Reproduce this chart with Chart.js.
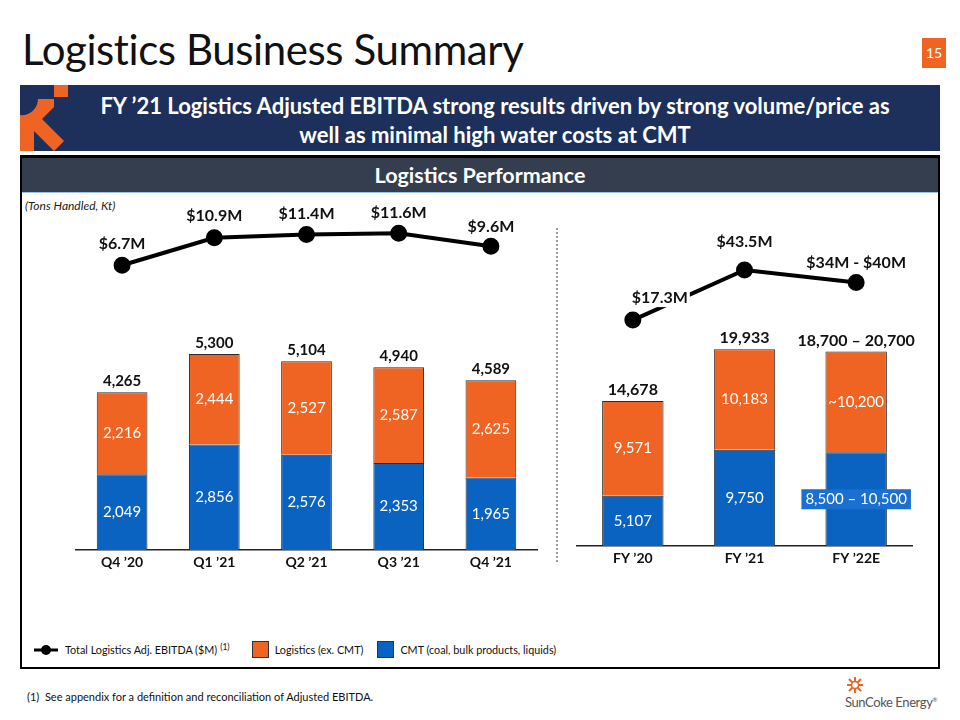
<!DOCTYPE html>
<html>
<head>
<meta charset="utf-8">
<script src="https://cdn.jsdelivr.net/npm/chart.js@4.4.0/dist/chart.umd.min.js"></script>
<style>
  body { margin: 0; width: 960px; height: 720px; background: #fff; font-family: "Lato", "Open Sans", sans-serif; position: relative; overflow: hidden; }
  .abs { position: absolute; }
  #title { left: 22px; top: 24px; font-size: 42px; color: #111; letter-spacing: -0.4px; }
  #pagenum { left: 922px; top: 38px; width: 24px; height: 30px; background: #ef6423; color: #fff; font-size: 14px; text-align: center; line-height: 30px; }
  #banner { left: 20px; top: 85px; width: 920px; height: 66px; background: #1d2f5b; }
  #bannerText { left: 50px; top: 91px; width: 890px; color: #fff; font-weight: bold; font-size: 22px; line-height: 29px; text-align: center; }
  #panel { left: 20px; top: 155px; width: 916px; height: 509px; border: 2px solid #000; border-top: 3px solid #000; }
  #header { left: 22px; top: 158px; width: 916px; height: 34px; background: #343e4f; color: #fff; font-weight: bold; font-size: 21.5px; line-height: 34px; text-align: center; border-bottom: 1px solid #9dc3e6; }
  #units { left: 25px; top: 198px; font-size: 12px; font-style: italic; color: #222; }
  #divider { left: 556px; top: 228px; height: 334px; border-left: 2px dotted #9a9a9a; }
  #legend { left: 33px; top: 641px; font-size: 10.8px; color: #111; display: flex; align-items: center; }
  .sw { width: 15px; height: 15px; border: 1px solid #333; margin-right: 6px; }
  #footnote { left: 27px; top: 690px; font-size: 11px; color: #111; }
  #logo { left: 836px; top: 676px; width: 110px; text-align: center; color: #555; font-size: 13px; letter-spacing: -0.4px; }
  canvas { position: absolute; }
</style>
</head>
<body>
<div id="title" class="abs">Logistics Business Summary</div>
<div id="pagenum" class="abs">15</div>
<div id="banner" class="abs"></div>
<svg class="abs" style="left:20px;top:85px" width="60" height="66" viewBox="0 0 60 66">
  <rect x="34" y="0" width="14" height="12" fill="#ef6423"/>
  <path d="M0 30 A16 16 0 0 0 18 14 L34 14 L34 22 L22 34 L44 56 L34 66 L14 46 L14 66 L0 66 Z" fill="#ef6423"/>
</svg>
<div id="bannerText" class="abs">FY ’21 Logistics Adjusted EBITDA strong results driven by strong volume/price as<br>well as minimal high water costs at CMT</div>
<div id="panel" class="abs"></div>
<div id="header" class="abs">Logistics Performance</div>
<div id="units" class="abs">(Tons Handled, Kt)</div>
<div id="divider" class="abs"></div>

<canvas id="quarterChart" style="left:20px;top:195px" width="537" height="390"></canvas>
<canvas id="yearChart" style="left:560px;top:195px" width="375" height="390"></canvas>

<div id="legend" class="abs">
  <svg width="26" height="12" style="margin-right:6px"><line x1="1" y1="6" x2="25" y2="6" stroke="#000" stroke-width="3"/><circle cx="13" cy="6" r="5" fill="#000"/></svg>
  <span>Total Logistics Adj. EBITDA ($M)</span><sup style="font-size:8.5px;margin-left:3px;position:relative;top:-3px">(1)</sup>
  <span class="sw" style="background:#ef6423;margin-left:22px"></span><span>Logistics (ex. CMT)</span>
  <span class="sw" style="background:#0b63c1;margin-left:14px"></span><span>CMT (coal, bulk products, liquids)</span>
</div>
<div id="footnote" class="abs">(1)&nbsp; See appendix for a definition and reconciliation of Adjusted EBITDA.</div>
<div id="logo" class="abs">
  <svg width="18" height="18" viewBox="-9 -9 18 18" style="display:block;margin:0 auto 0 10px">
    <g stroke="#ef6423" stroke-width="2">
      <line x1="-8" y1="0" x2="8" y2="0"/><line x1="0" y1="-8" x2="0" y2="8"/>
      <line x1="-6" y1="-6" x2="6" y2="6"/><line x1="-6" y1="6" x2="6" y2="-6"/>
    </g>
    <circle r="3.5" fill="#fff" stroke="#ef6423" stroke-width="1.5"/>
  </svg>
  <div>SunCoke Energy<sup style="font-size:6px">®</sup></div>
</div>

<script>
// quarterly data (Kt)
const quarters = ["Q4 ’20", "Q1 ’21", "Q2 ’21", "Q3 ’21", "Q4 ’21"];
const qCmt = [2049, 2856, 2576, 2353, 1965];
const qLogistics = [2216, 2444, 2527, 2587, 2625];
const qCmtLabels = ["2,049", "2,856", "2,576", "2,353", "1,965"];
const qLogLabels = ["2,216", "2,444", "2,527", "2,587", "2,625"];
const qTotalLabels = ["4,265", "5,300", "5,104", "4,940", "4,589"];
const qEbitda = [6.7, 10.9, 11.4, 11.6, 9.6];
const qEbitdaLabels = ["$6.7M", "$10.9M", "$11.4M", "$11.6M", "$9.6M"];

// full year data (Kt), FY '22E uses midpoint of guidance ranges
const years = ["FY ’20", "FY ’21", "FY ’22E"];
const yCmt = [5107, 9750, 9500];
const yLogistics = [9571, 10183, 10200];
const yCmtLabels = ["5,107", "9,750", "8,500 – 10,500"];
const yLogLabels = ["9,571", "10,183", "~10,200"];
const yTotalLabels = ["14,678", "19,933", "18,700 – 20,700"];
const yEbitda = [17.3, 43.5, 37];
const yEbitdaLabels = ["$17.3M", "$43.5M", "$34M - $40M"];

const ORANGE = "#ef6423";
const BLUE = "#0b63c1";
const FONT = "Lato, 'Open Sans', sans-serif";

Chart.defaults.font.family = FONT;
Chart.defaults.animation = false;

// draws the value labels (segments, totals, line points)
const labelPlugin = {
  id: "labels",
  afterDatasetsDraw(chart, args, opts) {
    const ctx = chart.ctx;
    ctx.save();
    ctx.textAlign = "center";
    ctx.textBaseline = "middle";
    const cmtMeta = chart.getDatasetMeta(0);
    const logMeta = chart.getDatasetMeta(1);
    const lineMeta = chart.getDatasetMeta(2);

    cmtMeta.data.forEach((bar, i) => {
      // blue segment
      const cy = (bar.y + bar.base) / 2;
      ctx.font = "15px " + FONT;
      const txt = opts.cmt[i];
      if (opts.boxed && opts.boxed[i]) {
        const w = ctx.measureText(txt).width + 8;
        ctx.fillStyle = "#1a6fd0";
        ctx.fillRect(bar.x - w / 2, cy - 10, w, 20);
      }
      ctx.fillStyle = "#fff";
      ctx.fillText(txt, bar.x, cy);

      // orange segment
      const ob = logMeta.data[i];
      ctx.fillText(opts.log[i], ob.x, (ob.y + ob.base) / 2);

      // total on top
      ctx.fillStyle = "#111";
      ctx.font = "bold " + opts.totalSize + "px " + FONT;
      ctx.fillText(opts.total[i], ob.x, ob.y - 11);
    });

    ctx.font = "bold 16px " + FONT;
    lineMeta.data.forEach((pt, i) => {
      const off = opts.lineOffset[i];
      const x = pt.x + off[0], y = pt.y + off[1];
      if (off[2]) {
        const w = ctx.measureText(opts.line[i]).width + 4;
        ctx.fillStyle = "#fff";
        ctx.fillRect(x - w / 2, y - 9, w, 18);
      }
      ctx.fillStyle = "#111";
      ctx.fillText(opts.line[i], x, y);
    });
    ctx.restore();
  }
};

function makeChart(id, labels, cmt, logi, ebitda, yMax, y1Min, y1Max, barPct, pad, labelOpts) {
  return new Chart(document.getElementById(id).getContext("2d"), {
    type: "bar",
    data: {
      labels: labels,
      datasets: [
        { label: "CMT (coal, bulk products, liquids)", data: cmt, backgroundColor: BLUE, borderColor: "#2b2b2b", borderWidth: 1, stack: "s", order: 2 },
        { label: "Logistics (ex. CMT)", data: logi, backgroundColor: ORANGE, borderColor: "#2b2b2b", borderWidth: 1, stack: "s", order: 2 },
        { type: "line", label: "Total Logistics Adj. EBITDA ($M)", data: ebitda, yAxisID: "y1", borderColor: "#000", borderWidth: 4,
          pointRadius: 6.5, pointBackgroundColor: "#000", pointBorderColor: "#000", order: 1 }
      ]
    },
    options: {
      responsive: false,
      layout: { padding: pad },
      barPercentage: barPct,
      categoryPercentage: 1,
      scales: {
        x: {
          stacked: true,
          grid: { display: false, drawTicks: false },
          border: { display: true, color: "#222", width: 1.5 },
          ticks: { color: "#111", font: { size: 14, weight: "bold" }, padding: 4 }
        },
        y: { stacked: true, display: false, min: 0, max: yMax },
        y1: { display: false, min: y1Min, max: y1Max }
      },
      plugins: { legend: { display: false }, tooltip: { enabled: false }, labels: labelOpts }
    },
    plugins: [labelPlugin]
  });
}

makeChart("quarterChart", quarters, qCmt, qLogistics, qEbitda, 9050, -37, 14.4, 0.55,
  { left: 56, right: 20, top: 20, bottom: 10 },
  { cmt: qCmtLabels, log: qLogLabels, total: qTotalLabels, totalSize: 15, line: qEbitdaLabels,
    lineOffset: [[0, -21], [0, -22], [0, -21], [0, -20], [0, -19]] });

makeChart("yearChart", years, yCmt, yLogistics, yEbitda, 33500, -101, 72.3, 0.55,
  { left: 17, right: 23, top: 20, bottom: 14 },
  { cmt: yCmtLabels, log: yLogLabels, total: yTotalLabels, totalSize: 16, line: yEbitdaLabels,
    boxed: [false, false, true], lineOffset: [[27, -22, true], [0, -28], [0, -20]] });
</script>
</body>
</html>
